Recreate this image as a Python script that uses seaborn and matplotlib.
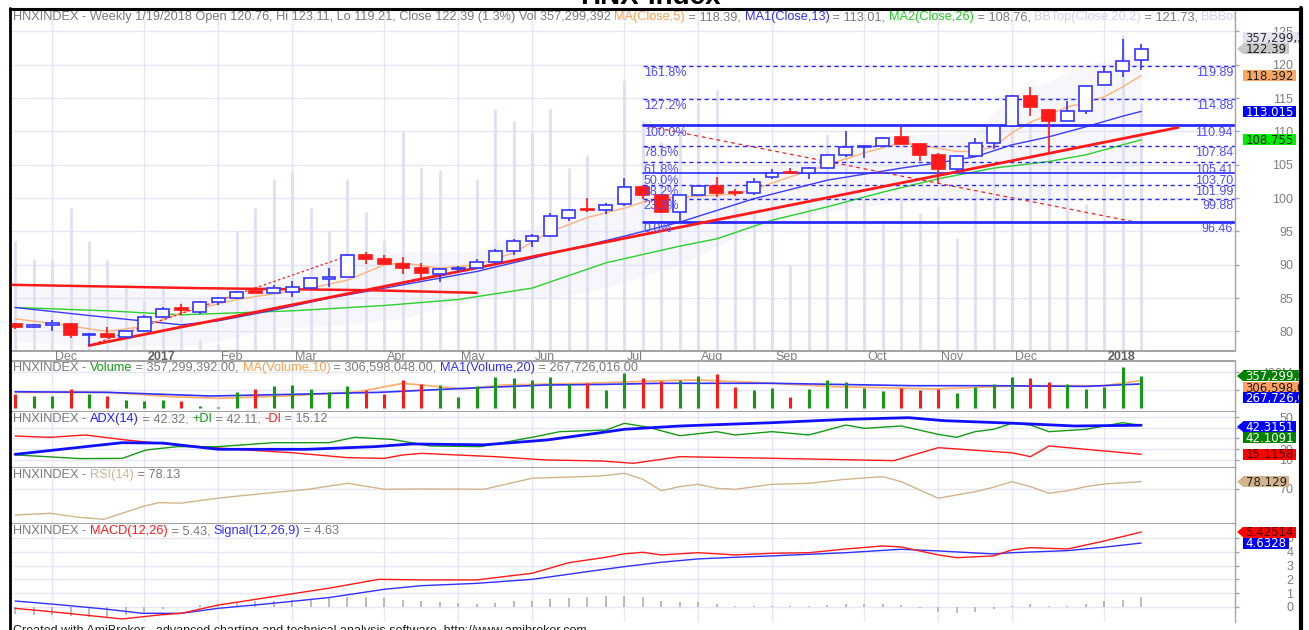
import numpy as np
import pandas as pd
import matplotlib
matplotlib.use("Agg")
import matplotlib.pyplot as plt
import matplotlib.transforms as mtransforms
from matplotlib.lines import Line2D
from matplotlib.patches import Rectangle, Polygon
import seaborn as sns

#%% values: weekly bars, 18 Nov 2016 .. 19 Jan 2018 (bar index 0..61)

opens = [81.1, 80.7, 81.0, 81.1, 79.5, 79.6, 79.1, 80.0, 82.1, 83.5,
         82.9, 84.4, 85.0, 86.0, 85.8, 85.9, 86.5, 87.9, 88.2, 91.4,
         90.9, 90.1, 89.5, 88.6, 89.4, 89.5, 90.4, 92.1, 93.6, 94.3,
         97.0, 98.3, 98.2, 99.1, 101.7, 100.4, 97.9, 100.5, 101.8, 100.9,
         100.8, 103.2, 103.9, 103.8, 104.5, 106.4, 107.7, 107.8, 109.2, 108.1,
         106.4, 104.4, 106.3, 108.3, 110.8, 115.3, 113.2, 111.6, 113.0, 117.0,
         119.0, 120.76]
highs = [81.3, 81.1, 81.7, 81.2, 79.7, 80.6, 80.1, 82.5, 83.7, 84.1,
         84.5, 85.1, 86.0, 86.4, 87.0, 87.6, 88.0, 89.5, 91.6, 91.9,
         91.4, 91.1, 90.2, 89.5, 89.8, 90.9, 92.3, 93.8, 94.6, 97.8,
         98.3, 100.0, 99.3, 103.0, 102.0, 100.6, 100.6, 101.9, 103.2, 101.3,
         103.0, 104.3, 104.5, 104.6, 106.6, 110.0, 107.9, 109.1, 110.7, 108.2,
         106.8, 106.4, 109.0, 110.9, 115.4, 116.7, 113.3, 114.5, 116.9, 119.7,
         123.8, 123.11]
lows = [80.4, 80.5, 80.0, 79.0, 77.9, 79.0, 79.0, 79.9, 82.0, 82.5,
        82.6, 83.9, 84.9, 85.7, 85.7, 85.2, 86.4, 86.7, 88.1, 90.1,
        90.0, 88.6, 87.7, 87.4, 88.9, 89.3, 90.3, 91.5, 92.7, 94.2,
        96.6, 97.9, 97.6, 98.8, 99.9, 97.8, 96.46, 100.3, 100.2, 100.3,
        100.4, 102.8, 103.7, 102.8, 104.4, 106.2, 106.0, 107.7, 108.1, 105.5,
        102.3, 103.9, 106.2, 107.3, 110.7, 112.3, 106.8, 111.5, 112.6, 116.9,
        118.2, 119.21]
closes = [80.6, 80.9, 81.3, 79.5, 79.6, 79.1, 80.0, 82.1, 83.3, 83.2,
          84.4, 85.0, 85.9, 85.8, 86.5, 86.7, 88.0, 88.2, 91.5, 90.9,
          90.1, 89.5, 88.8, 89.4, 89.5, 90.4, 92.1, 93.6, 94.3, 97.3,
          98.2, 98.2, 99.0, 101.7, 100.4, 97.9, 100.4, 101.8, 100.8, 100.8,
          102.4, 103.8, 103.8, 104.5, 106.5, 107.7, 107.8, 109.0, 108.1, 106.4,
          104.4, 106.3, 108.3, 110.8, 115.3, 113.7, 111.6, 113.0, 116.8, 118.9,
          120.6, 122.39]
volume_m = [158, 132, 132, 206, 158, 130, 90, 71, 90, 71,
            15, 10, 173, 206, 248, 259, 206, 173, 248, 200,
            158, 315, 265, 260, 124, 248, 349, 331, 315, 349,
            263, 282, 203, 388, 331, 301, 312, 357, 376, 237,
            199, 219, 124, 207, 312, 286, 219, 188, 219, 199,
            207, 162, 230, 267, 349, 331, 286, 267, 211, 237,
            455, 357.3]
macd_hist = [-0.5, -0.55, -0.6, -0.65, -0.7, -0.7, -0.6, -0.35, -0.15, 0.0,
             0.15, 0.25, 0.35, 0.4, 0.45, 0.5, 0.6, 0.65, 0.7, 0.75,
             0.65, 0.5, 0.4, 0.35, 0.3, 0.25, 0.3, 0.4, 0.45, 0.6,
             0.65, 0.7, 0.77, 0.77, 0.72, 0.41, 0.36, 0.36, 0.19, 0.07,
             0.07, 0.07, 0.07, 0.07, 0.14, 0.19, 0.24, 0.24, 0.14, -0.05,
             -0.36, -0.43, -0.36, -0.12, 0.07, 0.24, 0.07, 0.07, 0.19, 0.41,
             0.53, 0.72]

# indicator lines as (bar, value) vertices
ma5 = [(0, 81.9), (2, 81.2), (5, 80.0), (7, 80.8), (9, 82.8), (12, 84.8), (16, 86.5),
       (18, 87.7), (20, 90.0), (21, 90.3), (23, 89.5), (25, 90.0), (27, 91.8), (29, 95.0),
       (31, 97.1), (33, 98.5), (34, 99.4), (35, 100.0), (37, 100.3), (39, 100.6), (40, 101.3),
       (42, 103.2), (44, 105.0), (46, 106.8), (48, 108.3), (49, 108.0), (50, 107.5), (51, 107.0),
       (52, 107.0), (53, 107.7), (54, 109.8), (55, 111.4), (56, 112.5), (57, 113.7), (58, 114.3),
       (59, 115.2), (60, 116.7), (61, 118.39)]
ma13 = [(0, 83.6), (4, 82.4), (9, 81.0), (11, 81.6), (14, 83.2), (17, 85.0), (20, 86.5),
        (25, 89.0), (30, 92.3), (33, 94.3), (36, 96.4), (40, 99.9), (44, 102.7), (48, 104.5),
        (50, 105.3), (52, 106.2), (54, 108.0), (56, 109.2), (58, 110.7), (60, 112.3), (61, 113.015)]
ma26 = [(0, 83.6), (5, 83.1), (9, 82.5), (15, 83.1), (20, 83.9), (24, 84.8), (28, 86.5),
        (32, 90.3), (36, 92.8), (38, 93.9), (41, 96.7), (44, 98.7), (47, 100.9), (50, 102.9),
        (53, 104.5), (56, 105.5), (58, 106.5), (61, 108.755)]
bb_bars = [0, 5, 10, 14, 18, 21, 25, 29, 32, 36, 40, 44, 48, 52, 54, 56, 58, 61]
bb_top = [87.0, 86.5, 85.5, 87.0, 91.0, 92.0, 92.0, 97.0, 100.0, 103.5, 103.8, 107.5,
          109.5, 109.8, 115.5, 117.5, 120.0, 121.73]
bb_bot = [78.5, 77.8, 78.0, 80.5, 81.0, 82.0, 85.0, 85.0, 86.5, 90.0, 95.5, 98.0,
          99.5, 99.8, 99.8, 100.5, 101.5, 104.5]

flat_line = [(-0.17, 87.0), (10, 86.5), (19, 86.2), (25, 85.8)]
trend_line = [(4, 77.9), (63, 110.6)]
swing_line = [(4, 77.9), (18.3, 91.6)]
fib_diag = [(34, 110.94), (60.6, 96.46)]

fib_start = 34
fib_levels = [96.46, 99.88, 101.99, 103.70, 105.41, 107.84, 110.94, 114.88, 119.89]
fib_names = ['0.0%', '23.6%', '38.2%', '50.0%', '61.8%', '78.6%', '100.0%', '127.2%', '161.8%']
fib_values = ['96.46', '99.88', '101.99', '103.70', '105.41', '107.84', '110.94', '114.88', '119.89']
fib_styles = ['solid', 'dashed', 'dashed', 'solid', 'dashed', 'dashed', 'solid', 'dashed', 'dashed']
fib_widths = [2.0, 1.0, 1.0, 1.2, 1.0, 1.0, 2.0, 1.0, 1.0]

vol_ma10 = [(0, 173), (5, 173), (8.5, 124), (11, 106), (15, 135), (18.6, 180), (21, 275),
            (24.3, 211), (26.4, 256), (31, 275), (35, 304), (37, 312), (40, 286), (44.4, 237),
            (49.8, 211), (53, 237), (55, 248), (59, 248), (61, 306.6)]
vol_ma20 = [(0, 180), (5, 173), (10.6, 132), (15, 151), (19.7, 173), (24.3, 218), (28.8, 256),
            (31.7, 262), (35, 275), (41, 275), (48.7, 248), (53, 248), (58, 240), (61, 267.7)]

adx = [(0, 15.1), (5.8, 26.0), (8, 25.6), (11, 19.8), (15.8, 19.8), (19.5, 22.3), (21.5, 24.8),
       (25.4, 24.0), (28.8, 28.5), (31.7, 35.3), (33, 38.5), (36, 41.6), (41, 44.7), (45, 47.8),
       (48.4, 49.4), (50.3, 46.6), (54.2, 44.1), (57.4, 41.6), (61, 42.32)]
plus_di = [(0, 14.6), (3.5, 11.1), (5.8, 11.3), (7.1, 19.2), (8.8, 22.3), (11, 22.3), (14, 26.0),
           (17, 26.0), (18.4, 31.0), (20.4, 29.1), (22.5, 22.9), (25.2, 22.3), (27, 27.9),
           (28, 31.0), (29.5, 36.3), (32, 37.8), (33, 44.1), (34.3, 40.4), (36, 32.5), (38, 36.3),
           (39, 33.2), (41, 36.3), (43, 33.2), (45, 42.5), (46, 39.4), (48, 41.6), (50, 33.8),
           (51, 31.0), (52, 36.3), (53, 38.5), (54, 44.1), (55, 42.5), (56, 36.3), (58, 38.5),
           (59, 41.6), (60, 44.7), (61, 42.11)]
minus_di = [(0, 32.2), (1.9, 31.0), (3.8, 33.2), (6, 28.5), (8.8, 23.8), (12.5, 19.2), (15, 16.6),
            (18, 12.0), (20, 11.3), (21, 14.5), (22, 16.0), (26, 12.9), (28.8, 9.8), (31.7, 8.9),
            (33.5, 6.7), (36, 12.9), (41, 11.4), (47.6, 9.2), (50, 21.3), (54, 16.5), (55, 12.9),
            (56, 22.9), (61, 15.12)]

rsi = [(0, 41.1), (1.9, 43.0), (3.4, 38.6), (4.8, 36.3), (7, 51.1), (7.8, 54.8), (9, 54.2),
       (10.2, 57.8), (12, 62.0), (14, 66.0), (15.9, 69.7), (18, 76.3), (20, 69.7), (22, 70.0),
       (25.4, 69.7), (28, 81.9), (31.7, 84.4), (33, 87.4), (34, 80.8), (35, 68.1), (36, 72.6),
       (37, 75.2), (38, 70.8), (39, 69.6), (41, 75.2), (43, 76.3), (45, 80.8), (47, 83.7),
       (48, 78.1), (50, 59.7), (52, 67.0), (53, 71.9), (54, 78.1), (55, 72.6), (56, 65.2),
       (57, 68.1), (58, 72.6), (59, 75.6), (61, 78.13)]

macd = [(0, -0.1), (1.9, -0.34), (3.7, -0.58), (5.8, -0.87), (7.8, -0.58), (9, -0.46), (11, 0.14),
        (14, 0.75), (17, 1.36), (19.7, 2.0), (22, 1.96), (25, 1.96), (28, 2.44), (30, 3.21),
        (32, 3.6), (33, 3.85), (34, 3.96), (35, 3.77), (37, 3.93), (39, 3.77), (41, 3.89),
        (43, 3.93), (45, 4.2), (47, 4.42), (48, 4.35), (50, 3.77), (51, 3.57), (53, 3.70),
        (54, 4.13), (55, 4.3), (57, 4.2), (59, 4.78), (60, 5.1), (61, 5.43)]
signal = [(0, 0.43), (1.9, 0.22), (4.8, -0.14), (6.9, -0.46), (9, -0.46), (11, -0.1), (14, 0.27),
          (17, 0.68), (20, 1.28), (22, 1.54), (25, 1.71), (28, 2.0), (31, 2.56), (33, 2.92),
          (35, 3.24), (37, 3.48), (39, 3.6), (41, 3.7), (45, 3.93), (48, 4.18), (50, 4.06),
          (53, 3.84), (54, 3.93), (57, 4.08), (59, 4.33), (61, 4.63)]

month_bars = [2, 7, 11, 15, 20, 24, 28, 33, 37, 41, 46, 50, 54, 59]
month_labels = ['Dec', '2017', 'Feb', 'Mar', 'Apr', 'May', 'Jun', 'Jul', 'Aug', 'Sep',
                'Oct', 'Nov', 'Dec', '2018']

#%% style
sns.set_theme(style='white')
plt.rcParams['font.family'] = ['Liberation Sans', 'DejaVu Sans']

W_PX, H_PX = 1309, 630
GRID = '#e6e6f7'
AXC = '#a4a4a4'
TXT = '#808080'
BLUE = '#3535ff'
RED = '#ff1a1a'
GREEN = '#159a15'
FS = 9
HFS = 9.2

fig = plt.figure(figsize=(W_PX / 100, H_PX / 100), dpi=100)


def panel(top, bottom):
    return fig.add_axes([12 / W_PX, 1 - bottom / H_PX, (1235 - 12) / W_PX, (bottom - top) / H_PX])


ax_p = panel(10, 350.7)
ax_v = panel(361, 412)
ax_a = panel(412, 468)
ax_r = panel(468, 524)
ax_m = panel(524, 622)
panels = [ax_p, ax_v, ax_a, ax_r, ax_m]


def draw_line(ax, pts, color, lw=1.0, ls='-', z=2):
    df = pd.DataFrame(pts, columns=['bar', 'val'])
    sns.lineplot(data=df, x='bar', y='val', ax=ax, color=color, linewidth=lw, linestyle=ls,
                 sort=False, estimator=None, legend=False, zorder=z)


x = np.arange(len(closes))
o = np.array(opens)
c = np.array(closes)
up = c >= o

#%% price panel
ax_p.fill_between(bb_bars, bb_bot, bb_top, color='#dcdcf2', alpha=0.25, linewidth=0, zorder=0.6)
ax_p.vlines(x, 0, np.array(volume_m) / 491, transform=ax_p.get_xaxis_transform(),
            color='#dfdff6', linewidth=2, zorder=0.8)

draw_line(ax_p, ma26, '#2bd12b', 1.0)
draw_line(ax_p, ma13, '#3c3cff', 1.0)
draw_line(ax_p, ma5, '#ffb27a', 1.0)
draw_line(ax_p, flat_line, RED, 1.8)
draw_line(ax_p, trend_line, RED, 2.0, z=2.6)
draw_line(ax_p, swing_line, RED, 0.9, ls=(0, (2, 2)))
draw_line(ax_p, fib_diag, RED, 0.9, ls=(0, (3, 3)))

for lev, name, val, st, lw in zip(fib_levels, fib_names, fib_values, fib_styles, fib_widths):
    ls = '-' if st == 'solid' else (0, (3, 2.5))
    ax_p.plot([fib_start, 70], [lev, lev], color='#2a2aff', linewidth=lw, linestyle=ls, zorder=2.5)
    ax_p.text(fib_start + 0.05, lev, name, color='#4d4dff', fontsize=FS, va='top', ha='left',
              transform=mtransforms.offset_copy(ax_p.transData, fig, x=0, y=-1.5, units='dots'),
              zorder=5)
    ax_p.text(0.9984, lev, val, color='#4d4dff', fontsize=FS, va='top', ha='right',
              transform=mtransforms.offset_copy(ax_p.get_yaxis_transform(), fig, x=0, y=-1.5,
                                                units='dots'), zorder=5)

wick_col = [BLUE if u else RED for u in up]
ax_p.vlines(x, lows, highs, colors=wick_col, linewidth=1.2, zorder=3)
ax_p.bar(x, np.maximum(np.abs(c - o), 0.12), bottom=np.minimum(o, c), width=0.7,
         color=['white' if u else RED for u in up], edgecolor=wick_col, linewidth=1.2, zorder=4)

#%% volume panel
ax_v.vlines(x, 0, volume_m, colors=[GREEN if u else RED for u in up], linewidth=2.2, zorder=3)
draw_line(ax_v, vol_ma10, '#ffb070', 1.3)
draw_line(ax_v, vol_ma20, '#3030ff', 1.2)

#%% ADX panel
draw_line(ax_a, minus_di, RED, 1.0)
draw_line(ax_a, plus_di, GREEN, 1.0)
draw_line(ax_a, adx, '#1010ff', 2.0, z=3)

#%% RSI panel
draw_line(ax_r, rsi, '#d2b48c', 1.0)

#%% MACD panel
ax_m.vlines(x, 0, macd_hist, color='#a8a8a8', linewidth=1.1, zorder=1.5)
draw_line(ax_m, signal, '#3030ff', 1.0)
draw_line(ax_m, macd, RED, 1.0)

#%% axes cosmetics
limits = {ax_p: (77.12, 128.22), ax_v: (-48, 526), ax_a: (2.3, 54.7), ax_r: (31.1, 93.3),
          ax_m: (-1.09, 6.01)}
ticks = {ax_p: list(range(80, 126, 5)), ax_v: [200, 400], ax_a: [10, 20, 30, 40, 50],
         ax_r: [70], ax_m: [0, 1, 2, 3, 4, 5]}
for ax in panels:
    ax.set_xlabel('')
    ax.set_ylabel('')
    ax.set_xlim(-0.17, 66.08)
    ax.set_ylim(*limits[ax])
    ax.set_xticks(month_bars)
    ax.set_yticks(ticks[ax])
    ax.grid(True, color=GRID, linewidth=1)
    ax.set_axisbelow(True)
    ax.yaxis.tick_right()
    for s in ['left', 'top']:
        ax.spines[s].set_visible(False)
    ax.spines['right'].set_color(AXC)
    ax.spines['right'].set_linewidth(1)
    ax.spines['bottom'].set_color(AXC)
    ax.spines['bottom'].set_linewidth(1.5)
    ax.tick_params(axis='x', length=0, labelbottom=False)
    ax.tick_params(axis='y', direction='out', length=3, width=1, color=AXC, labelcolor=TXT,
                   labelsize=FS, pad=39)
ax_v.set_yticklabels(['200M', '400M'])
for ax in panels:
    plt.setp(ax.get_yticklabels(), ha='right')
ax_v.spines['top'].set_visible(True)
ax_v.spines['top'].set_color(AXC)
ax_v.spines['top'].set_linewidth(1.5)
ax_m.spines['bottom'].set_visible(False)
ax_p.tick_params(axis='x', length=5, width=1, color=AXC, direction='out')

# month labels beside the tick marks
lab_tr = mtransforms.offset_copy(ax_p.get_xaxis_transform(), fig, x=3, y=-0.5, units='dots')
for b, name in zip(month_bars, month_labels):
    bold = name.isdigit()
    ax_p.text(b, 0, name, transform=lab_tr, va='top', ha='left', fontsize=FS,
              color='#606060' if bold else TXT, fontweight='bold' if bold else 'normal')


#%% coloured headers
def header(ax, parts):
    tr = mtransforms.offset_copy(ax.transAxes, fig, x=1, y=-1, units='dots')
    t = ax.text(0, 1, parts[0][0], color=parts[0][1], transform=tr, va='top', ha='left',
                fontsize=HFS, clip_on=True, zorder=6)
    for s, col in parts[1:]:
        t = ax.annotate(s, xy=(1, 0), xycoords=t, va='bottom', ha='left', color=col,
                        fontsize=HFS, clip_on=True, zorder=6)


G = '#7a7a7a'
header(ax_p, [('HNXINDEX - Weekly 1/19/2018 Open 120.76, Hi 123.11, Lo 119.21, Close 122.39 (1.3%) '
               'Vol 357,299,392 ', G), ('MA(Close,5)', '#ffa050'), (' = 118.39, ', G),
              ('MA1(Close,13)', '#3030ff'), (' = 113.01, ', G), ('MA2(Close,26)', '#22cc22'),
              (' = 108.76, ', G), ('BBTop(Close,20,2)', '#d0d0f4'), (' = 121.73, ', G),
              ('BBBot(Close,20,2)', '#d0d0f4'), (' = 100.34', G)])
header(ax_v, [('HNXINDEX - ', G), ('Volume', GREEN), (' = 357,299,392.00, ', G),
              ('MA(Volume,10)', '#ffa050'), (' = 306,598,048.00, ', G),
              ('MA1(Volume,20)', '#3030ff'), (' = 267,726,016.00', G)])
header(ax_a, [('HNXINDEX - ', G), ('ADX(14)', '#2020ff'), (' = 42.32, ', G), ('+DI', GREEN),
              (' = 42.11, ', G), ('-DI', RED), (' = 15.12', G)])
header(ax_r, [('HNXINDEX - ', G), ('RSI(14)', '#d2b48c'), (' = 78.13', G)])
header(ax_m, [('HNXINDEX - ', G), ('MACD(12,26)', RED), (' = 5.43, ', G),
              ('Signal(12,26,9)', '#3030ff'), (' = 4.63', G)])

#%% value tags on the right axis
lab = fig.add_axes([1236 / W_PX, 0, (1299 - 1236) / W_PX, 1], zorder=10)
lab.set_xlim(1236, 1299)
lab.set_ylim(0, H_PX)
lab.axis('off')
lab.patch.set_visible(False)


def value_tag(ax, value, text, face, fg, arrow=False, nudge=0):
    yc = ax.transData.transform((0, value))[1] - nudge
    x0 = 1243
    w = sum(3.8 if ch in '.,' else 7.4 for ch in text) + 5
    lab.add_patch(Rectangle((x0, yc - 5.5), w, 11, facecolor=face, edgecolor='none'))
    if arrow:
        lab.add_patch(Polygon([(1237, yc), (x0 + 0.5, yc + 5.5), (x0 + 0.5, yc - 5.5)],
                              closed=True, facecolor=face, edgecolor='none'))
    lab.text(x0 + 2.5, yc - 4.2, text, color=fg, fontsize=8.5, family='DejaVu Sans',
             va='baseline', ha='left', clip_on=True)


value_tag(ax_p, 122.39, '357,299,392', '#e4e4ee', '#303030', nudge=-11)
value_tag(ax_p, 122.39, '122.39', '#c8c8c8', '#202020', arrow=True)
value_tag(ax_p, 118.392, '118.392', '#f8a860', '#202020')
value_tag(ax_p, 113.015, '113.015', '#0000ff', 'white')
value_tag(ax_p, 108.755, '108.755', '#00ee00', '#202020')
value_tag(ax_v, 357.3, '357,299,392', '#008000', 'white', arrow=True)
value_tag(ax_v, 306.6, '306,598,048', '#ffa060', '#202020', nudge=7)
value_tag(ax_v, 267.7, '267,726,016', '#0000ff', 'white', nudge=14)
value_tag(ax_a, 42.32, '42.3151', '#0000ff', 'white', arrow=True, nudge=1.5)
value_tag(ax_a, 42.11, '42.1091', '#008000', 'white', nudge=12)
value_tag(ax_a, 15.12, '15.1158', '#ff0000', '#400000')
value_tag(ax_r, 78.13, '78.129', '#d2b48c', '#202020', arrow=True)
value_tag(ax_m, 5.43, '5.42514', '#ff0000', '#400000', arrow=True)
value_tag(ax_m, 4.63, '4.6328', '#0000ff', 'white')

#%% frame, title, footer
fig.add_artist(Line2D([10 / W_PX, 10 / W_PX], [0, 1 - 8 / H_PX], color='black', linewidth=2,
                      transform=fig.transFigure))
fig.add_artist(Line2D([10 / W_PX, 1301 / W_PX], [1 - 8.5 / H_PX, 1 - 8.5 / H_PX], color='black',
                      linewidth=2.2, transform=fig.transFigure))
fig.add_artist(Line2D([1301 / W_PX, 1301 / W_PX], [0, 1 - 8 / H_PX], color='black', linewidth=3,
                      transform=fig.transFigure))
fig.text(650 / W_PX, 1 - 4 / H_PX, 'HNX-Index', ha='center', va='baseline', fontsize=20,
         fontweight='bold', color='black')
fig.text(13 / W_PX, 1 - 625 / H_PX, 'Created with AmiBroker - advanced charting and technical '
         'analysis software. http://www.amibroker.com', ha='left', va='top', fontsize=FS,
         color='#202020')

plt.savefig('out.png', dpi=100)
